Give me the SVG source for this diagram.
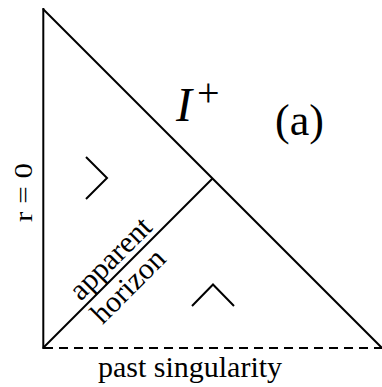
<svg xmlns="http://www.w3.org/2000/svg" width="382" height="387" viewBox="0 0 382 387">
<style>
.ln{stroke:#000;stroke-width:2;fill:none;stroke-linecap:butt}
.dash{stroke:#000;stroke-width:2;fill:none;stroke-dasharray:9 6}
.t{font-family:"Liberation Serif","Times New Roman",serif;fill:#000}
</style>
<rect width="382" height="387" fill="#fff"/>
<g id="connectors">
<line class="ln" x1="43.3" y1="8" x2="43.3" y2="349"/>
<line class="ln" x1="43" y1="9" x2="382" y2="348"/>
<line class="ln" x1="43" y1="348" x2="212.5" y2="178.5"/>
<line class="dash" x1="44" y1="348" x2="382" y2="348"/>
</g>
<g id="chevron-upper"><polyline class="ln" points="86,157 107,178 86,199"/></g>
<g id="chevron-lower"><polyline class="ln" points="192,306 213,284.5 234,306"/></g>
<g id="label-scri">
<text class="t" x="176" y="121" font-size="48" font-style="italic">I</text>
<text class="t" x="197" y="106" font-size="40">+</text>
</g>
<g id="label-a"><text class="t" x="275" y="135" font-size="44">(a)</text></g>
<g id="label-r0"><text class="t" transform="translate(32,192.5) rotate(-90)" text-anchor="middle" font-size="26" textLength="59" lengthAdjust="spacingAndGlyphs">r = 0</text></g>
<g id="label-horizon" transform="translate(43,348) rotate(-45)">
<text class="t" x="111" y="-6" font-size="30" text-anchor="middle">apparent</text>
<text class="t" x="104" y="26" font-size="30" text-anchor="middle">horizon</text>
</g>
<g id="label-past"><text class="t" x="190" y="377" font-size="30" text-anchor="middle">past singularity</text></g>
</svg>
